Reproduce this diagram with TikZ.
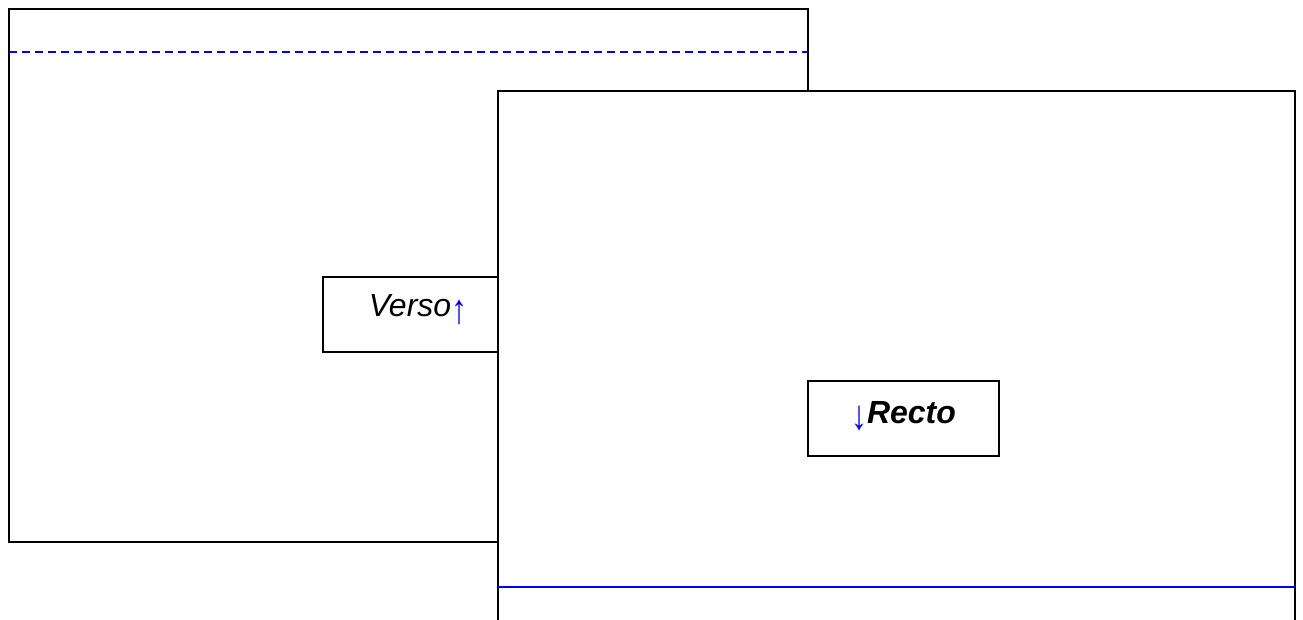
\documentclass[tikz,border=0pt]{standalone}
\usepackage{fontspec}
\usepackage{graphicx}
\setmainfont{Liberation Sans}
\usetikzlibrary{calc}
\newcommand{\tallarrow}[1]{\raisebox{-0.19em}{\scalebox{1}[1.3]{#1}}}
\begin{document}
\begin{tikzpicture}[x=0.75pt,y=-0.75pt,
  pagebox/.style={draw=black, fill=white, line width=1.5pt, inner sep=0pt, outer sep=0pt},
  labelbox/.style={draw=black, fill=white, line width=1.5pt, inner sep=0pt, outer sep=0pt, minimum height=56.25pt},
  labeltext/.style={inner sep=0pt, font=\fontsize{24}{28}\selectfont},
  blueline/.style={draw=blue, line width=1.1pt}
]
\useasboundingbox (0,0) rectangle (1303,620);
\clip (0,0) rectangle (1303,620);
\fill[white] (0,0) rectangle (1303,620);
% left page (verso)
\node[pagebox, minimum width=599.25pt, minimum height=399.75pt] (lp) at (408.5,275.5) {};
\coordinate (dl) at ($(lp.north west)+(0,43)$);
\coordinate (dr) at ($(lp.north east)+(0,43)$);
\draw[blueline, dash pattern=on 6pt off 3.75pt] (dl) -- (dr);
\node[labelbox, minimum width=142.5pt] (vb) at (418,314.5) {};
\node[labeltext, anchor=base] (vt) at ($(vb.center)+(0,2.5)$) {\itshape Verso\textcolor{blue}{\upshape\tallarrow{↑}}};
% right page (recto)
\node[pagebox, minimum width=597.75pt, minimum height=419.25pt] (rp) at (896.5,370.5) {};
\coordinate (bl) at ($(rp.north west)+(0,496)$);
\coordinate (br) at ($(rp.north east)+(0,496)$);
\draw[blueline] (bl) -- (br);
\node[labelbox, minimum width=143.25pt] (rb) at (903.5,418.5) {};
\node[labeltext, anchor=base] (rt) at ($(rb.center)+(0,4.5)$) {\textcolor{blue}{\tallarrow{↓}}\bfseries\itshape Recto};
\end{tikzpicture}
\end{document}
